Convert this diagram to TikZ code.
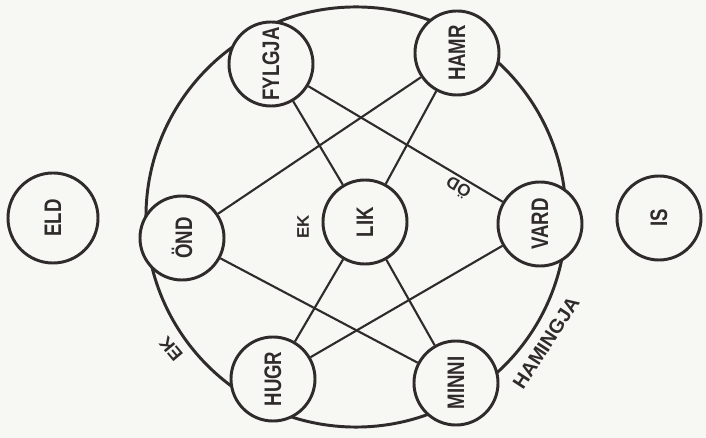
\documentclass[tikz,border=0pt]{standalone}
\usepackage{fontspec}
\setmainfont{Liberation Sans}
\definecolor{ink}{RGB}{48,43,43}
\definecolor{paper}{RGB}{247,247,244}
\newcommand{\sqz}[1]{\scalebox{0.78}[1]{#1}}

\begin{document}
\begin{tikzpicture}[x=0.025cm, y=-0.025cm, line join=round,
    soul/.style={circle, draw=ink, line width=2.1pt, fill=paper, inner sep=0pt,
        minimum size=2.1cm, rotate=90, text=ink, font=\bfseries\fontsize{17}{17}\selectfont},
    link/.style={draw=ink, line width=1.5pt},
    tag/.style={text=ink, inner sep=0pt, font=\bfseries\fontsize{12}{12}\selectfont}]
    % nen
    \fill[paper] (0,0) rectangle (706,438);
    % vong ngoai
    \draw[ink, line width=2.1pt] (356,217) circle [radius=5.25cm];
    % cac nut
    \node[soul, minimum size=2.25cm] (eld) at (53,218) {\sqz{ELD}};
    \node[soul] (is) at (659,218) {\sqz{IS}};
    \foreach \name/\txt/\x/\y in {ond/ÖND/182/238, fylgja/FYLGJA/271/64, hamr/HAMR/457/53,
        lik/LIK/365/222, vard/VARD/540/224, hugr/HUGR/273/379, minni/MINNI/456/383}
        \node[soul] (\name) at (\x,\y) {\sqz{\txt}};
    % duong noi
    \foreach \a/\b in {fylgja/lik, hamr/lik, hugr/lik, minni/lik,
        ond/hamr, ond/minni, fylgja/vard, hugr/vard}
        \draw[link] (\a) -- (\b);
    % nhan
    \node[tag, rotate=90] (ek) at (303,227) {EK};
    \node[tag, rotate=150] (od) at (458,188) {ÖD};
    \node[tag, rotate=130, font=\bfseries\fontsize{13}{13}\selectfont] (ek2) at (171,349) {EK};
    \node[tag, rotate=57, font=\bfseries\fontsize{14}{14}\selectfont] (hamingja) at (546,343) {HAMINGJA};
\end{tikzpicture}
\end{document}
